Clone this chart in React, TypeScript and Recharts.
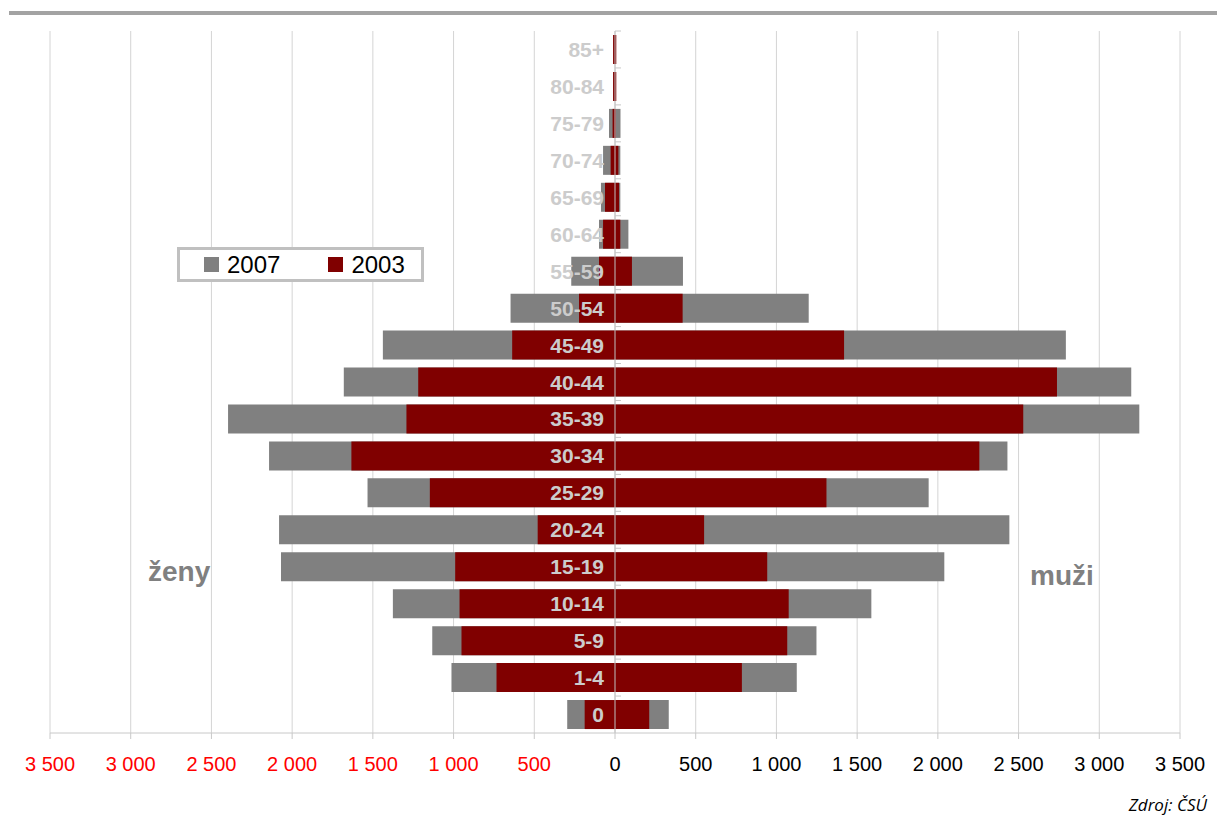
import { BarChart, Bar, XAxis, YAxis, CartesianGrid, Legend, ReferenceLine, LabelList } from 'recharts'

const AGES = ['0', '1-4', '5-9', '10-14', '15-19', '20-24', '25-29', '30-34', '35-39', '40-44', '45-49', '50-54', '55-59', '60-64', '65-69', '70-74', '75-79', '80-84', '85+']
const WOMEN_2007 = [296, 1013, 1132, 1376, 2069, 2081, 1533, 2143, 2397, 1680, 1438, 647, 271, 99, 87, 74, 37, 8, 6]
const WOMEN_2003 = [188, 734, 951, 963, 990, 479, 1147, 1633, 1292, 1219, 637, 223, 99, 74, 62, 27, 15, 12, 12]
const MEN_2007 = [333, 1126, 1248, 1588, 2040, 2443, 1943, 2431, 3248, 3198, 2793, 1200, 421, 83, 33, 33, 34, 5, 4]
const MEN_2003 = [212, 786, 1067, 1076, 943, 552, 1310, 2257, 2529, 2738, 1419, 419, 105, 33, 25, 21, 5, 8, 8]
const X_TICKS = [-3500, -3000, -2500, -2000, -1500, -1000, -500, 0, 500, 1000, 1500, 2000, 2500, 3000, 3500]
const SERIES = [
  { name: '2007', color: '#808080' },
  { name: '2003', color: '#800000' },
]

const rows = AGES.map((age, i) => ({
  age,
  w07: -WOMEN_2007[i],
  m07: MEN_2007[i],
  w03: -WOMEN_2003[i],
  m03: MEN_2003[i],
}))

const FONT = '"Liberation Sans", Arial, sans-serif'

function fmt(v: number) {
  return String(Math.abs(v)).replace(/\B(?=(\d{3})+(?!\d))/g, ' ')
}

function XTick(props: any) {
  const { x, y, payload } = props
  return (
    <text x={x} y={y + 30} textAnchor="middle" fontSize={20} fontFamily={FONT}
      fill={payload.value < 0 ? '#ff0000' : '#000000'}>
      {fmt(payload.value)}
    </text>
  )
}

// age label sits just left of the zero line, drawn on top of the bars
function AgeLabel(props: any) {
  const vb = props.viewBox || props
  const x = vb.x
  const y = vb.y
  const h = vb.height
  return (
    <g>
      <line x1={x} x2={x + 6} y1={y - 4} y2={y - 4} stroke="#c8c8c8" />
      <text x={x - 11} y={y + h / 2 + 7.5} textAnchor="end" fontSize={21} fontWeight="bold"
        fontFamily={FONT} fill="#cccccc">
        {props.value}
      </text>
    </g>
  )
}

function LegendBox() {
  return (
    <div style={{
      boxSizing: 'border-box', width: 247, height: 35, border: '3px solid #c0c0c0', background: '#fff',
      display: 'flex', alignItems: 'center', paddingLeft: 24, fontFamily: FONT, fontSize: 24, color: '#000',
    }}>
      {SERIES.map((s, i) => (
        <div key={s.name} style={{ display: 'flex', alignItems: 'center', marginLeft: i ? 48 : 0 }}>
          <span style={{ width: 15, height: 15, background: s.color, marginRight: 8, display: 'inline-block' }} />
          <span style={{ lineHeight: 1 }}>{s.name}</span>
        </div>
      ))}
    </div>
  )
}

export default function App() {
  return (
    <div style={{ position: 'relative', width: 1209, height: 810, overflow: 'hidden', fontFamily: FONT }}>
      <div style={{ position: 'absolute', left: 1, top: 3, width: 1216, height: 4, background: '#a3a3a3' }} />
      <BarChart
        width={1209}
        height={790}
        data={rows}
        layout="vertical"
        stackOffset="sign"
        barSize={29}
        barGap={-29}
        margin={{ top: 23, right: 37, left: 42, bottom: 25 }}
      >
        <CartesianGrid horizontal={false} stroke="#d4d4d4" />
        <XAxis
          type="number"
          domain={[-3500, 3500]}
          ticks={X_TICKS}
          interval={0}
          height={40}
          tick={<XTick />}
          tickSize={6}
          axisLine={{ stroke: '#c8c8c8' }}
          tickLine={{ stroke: '#c8c8c8' }}
        />
        <XAxis xAxisId="top" orientation="top" type="number" domain={[-3500, 3500]} height={0}
          tick={false} tickLine={false} axisLine={{ stroke: '#d9d9d9' }} />
        <YAxis type="category" dataKey="age" reversed hide />
        <Legend verticalAlign="middle" align="center" content={<LegendBox />}
          wrapperStyle={{ left: 169, top: 239, width: 247 }} />
        <Bar dataKey="w07" stackId="s07" fill="#808080" isAnimationActive={false} />
        <Bar dataKey="m07" stackId="s07" fill="#808080" isAnimationActive={false} />
        <Bar dataKey="w03" stackId="s03" fill="#800000" isAnimationActive={false} />
        <Bar dataKey="m03" stackId="s03" fill="#800000" isAnimationActive={false}>
          <LabelList dataKey="age" content={<AgeLabel />} />
        </Bar>
        <ReferenceLine x={0} stroke="#c0c0c0" />
      </BarChart>
      <div style={{ position: 'absolute', left: 140, top: 550, fontSize: 28, fontWeight: 'bold', color: '#808080', lineHeight: 1 }}>
        ženy
      </div>
      <div style={{ position: 'absolute', left: 1022, top: 554, fontSize: 28, fontWeight: 'bold', color: '#808080', lineHeight: 1 }}>
        muži
      </div>
      <div style={{ position: 'absolute', right: 10, top: 788, fontSize: 17, fontStyle: 'italic', fontFamily: '"Open Sans", sans-serif', lineHeight: 1.1, color: '#000' }}>
        Zdroj: ČSÚ
      </div>
    </div>
  )
}
